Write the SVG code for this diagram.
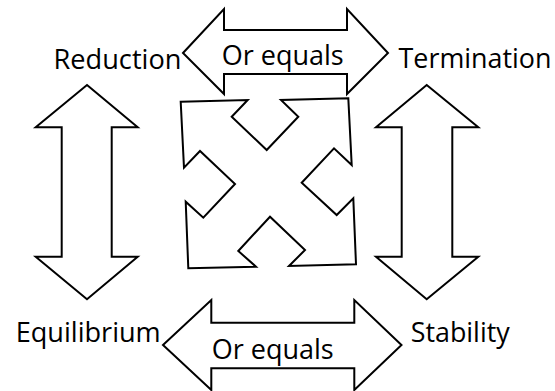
<svg xmlns="http://www.w3.org/2000/svg" width="555" height="391" viewBox="0 0 555 391">
  <style>
    .shape { fill: #ffffff; stroke: #000000; stroke-width: 2; stroke-linejoin: miter; }
    .label { font-family: "Open Sans", "Liberation Sans", sans-serif; font-size: 27px; fill: #000000; }
  </style>
  <rect width="555" height="391" fill="#ffffff"/>

  <!-- double-headed arrows acting as connectors between the four terms -->
  <g id="connectors">
    <g id="arrow-top">
      <polygon class="shape" points="183,53 224,9 224,30 347,30 347,9 388,53 347,94 347,74 224,74 224,94"/>
      <text class="label" x="221.7" y="65" textLength="122" lengthAdjust="spacingAndGlyphs">Or equals</text>
    </g>
    <g id="arrow-bottom">
      <polygon class="shape" points="163,345 211.3,300 211.3,322.7 354.3,322.7 354.3,300 401.5,345 354.3,390 354.3,368.3 211.3,368.3 211.3,390"/>
      <text class="label" x="211.7" y="359" textLength="122" lengthAdjust="spacingAndGlyphs">Or equals</text>
    </g>
    <g id="arrow-left">
      <polygon class="shape" points="87,85 137.7,127.3 111.7,127.3 111.7,256.7 137.7,256.7 87,299.3 35.7,256.7 61.7,256.7 61.7,127.3 35.7,127.3"/>
    </g>
    <g id="arrow-right">
      <polygon class="shape" points="426.7,85 478.3,127.3 452.3,127.3 452.3,256.7 478.3,256.7 426.7,299.3 376,256.7 401.7,256.7 401.7,127.3 376,127.3"/>
    </g>
    <g id="arrow-cross">
      <polygon class="shape" points="180.7,101.7 247.7,100 231.7,116.7 266.7,150 298.3,116.7 281,100 348.3,98.3 351.7,165 334,148.3 301.7,182.7 336.7,215 353.3,198.3 356,264.3 289,266 305,250 270,216.7 238.3,251 256,266.7 188.3,268.3 185.7,201.7 203.3,217.7 235,184 200,151 184,167.7"/>
    </g>
  </g>

  <!-- the four terms -->
  <g id="node-reduction">
    <text class="label" x="53.5" y="69" textLength="128" lengthAdjust="spacingAndGlyphs">Reduction</text>
  </g>
  <g id="node-termination">
    <text class="label" x="398.5" y="68" textLength="153" lengthAdjust="spacingAndGlyphs">Termination</text>
  </g>
  <g id="node-equilibrium">
    <text class="label" x="15.7" y="341.7" textLength="145" lengthAdjust="spacingAndGlyphs">Equilibrium</text>
  </g>
  <g id="node-stability">
    <text class="label" x="410.7" y="341.7" textLength="99" lengthAdjust="spacingAndGlyphs">Stability</text>
  </g>
</svg>
